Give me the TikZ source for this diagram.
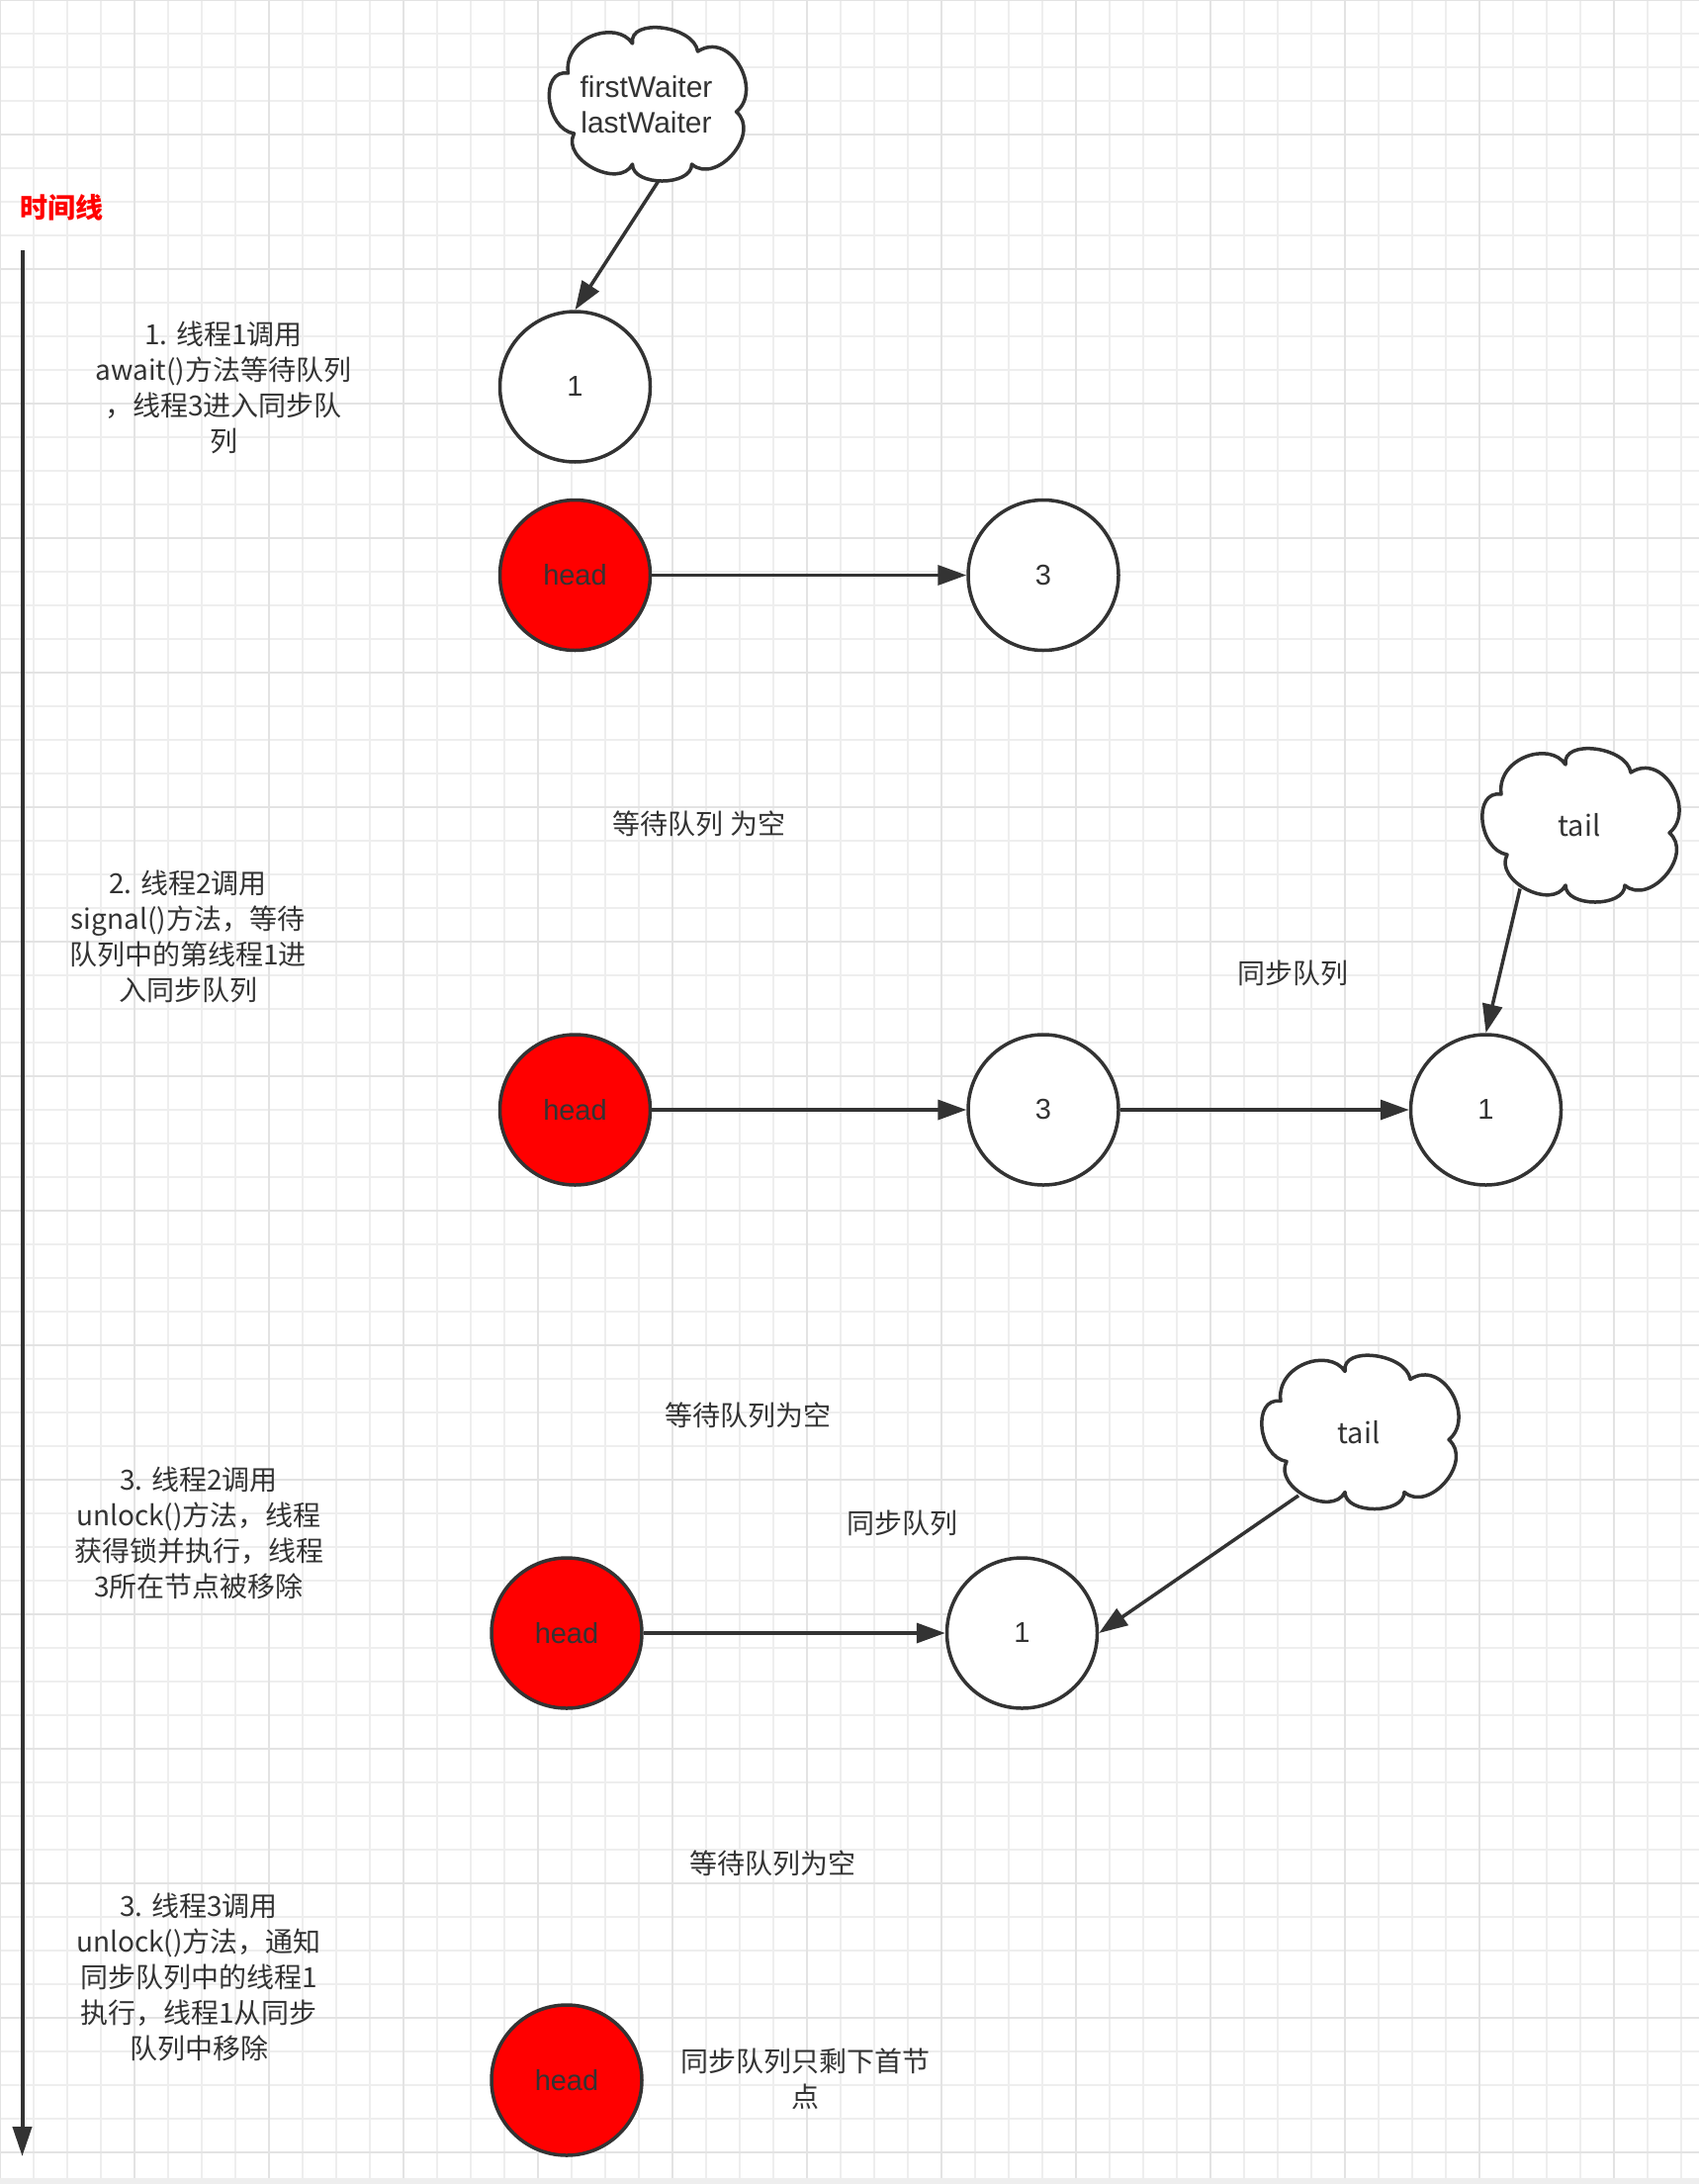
\documentclass[tikz,border=0pt]{standalone}
\usepackage{fontspec}
\setmainfont{Liberation Sans}
\newfontfamily\cjk{Noto Sans CJK SC}
\usetikzlibrary{positioning,arrows.meta}
\definecolor{ink}{HTML}{333333}
\definecolor{gridm}{HTML}{EEEEEE}
\definecolor{gridM}{HTML}{E3E3E3}
\tikzset{
  nd/.style={circle,draw=ink,line width=3.5pt,fill=white,minimum size=152pt,inner sep=0pt,text=ink,font=\fontsize{29}{34}\selectfont},
  hd/.style={nd,fill=red},
  arr/.style={-{Triangle[length=29pt,width=20pt]},line width=3.5pt,draw=ink},
  lbl/.style={font=\cjk\fontsize{28}{36}\selectfont,text=ink,align=center,inner sep=0pt},
  ttl/.style={font=\cjk\bfseries\fontsize{28}{34}\selectfont,text=red,inner sep=0pt},
  cloudline/.style={draw=ink,line width=3.5pt,fill=white,line join=round},
  cloudtxt/.style={align=center,text=ink,inner sep=0pt,minimum width=198pt,minimum height=155pt},
}
% cloud outline + text node: name, position, font, text
\newcommand\puffcloud[4]{%
  \draw[cloudline,shift={#2}] (-79,-31.5) .. controls (-84,-68) and (-30,-86) .. (-14,-61.5)
    .. controls (-18,-88) and (48,-80) .. (52,-53.5)
    .. controls (85.7,-75.1) and (118,-14.1) .. (91,7.5)
    .. controls (116.3,29.1) and (71.3,82.1) .. (46,60.5)
    .. controls (46,83.2) and (-14,83.2) .. (-14,60.5)
    .. controls (-27.6,86.5) and (-86.6,55.5) .. (-73,29.5)
    .. controls (-102.3,24.8) and (-108.3,-36.2) .. (-79,-31.5) -- cycle;
  \node[cloudtxt,font=#3] (#1) at #2 {#4};}

\begin{document}
\begin{tikzpicture}[x=1pt,y=-1pt]
\useasboundingbox (0,0) rectangle (1718,2208);
\fill[white] (0,0) rectangle (1718,2208);
\draw[gridm,line width=1.5pt,step=34pt] (0,0) grid (1718,2202);
\draw[gridM,line width=2.5pt,step=136pt] (0,0) grid (1718,2202);
\fill[gridm] (0,2202) rectangle (1718,2208);

% time line
\node[ttl] (tt) at (62,210) {时间线};
\coordinate (ts) at (22.5,253);
\coordinate (te) at (22.5,2180);
\draw[arr,line width=4pt,-{Triangle[length=30pt,width=19pt]}] (ts) -- (te);

% step 1
\node[lbl] (st1) at (226,392) {1. 线程1调用\\await()方法等待队列\\，线程3进入同步队\\列};
\puffcloud{fw}{(653.5,105.5)}{\fontsize{30}{36}\selectfont}{firstWaiter\\lastWaiter}
\node[hd] (h1) at (581.5,581.5) {head};
\node[nd,above=35pt of h1] (w1) {1};
\node[nd,right=318pt of h1] (s3a) {3};
\draw[arr] ([shift={(12,78)}]fw.center) -- (w1.north);
\draw[arr] (h1) -- (s3a);

% step 2
\node[lbl] (st2) at (190,947) {2. 线程2调用\\signal()方法，等待\\队列中的第线程1进\\入同步队列};
\node[lbl] (e2) at (707,833) {等待队列 为空};
\puffcloud{tl1}{(1597,834.5)}{\cjk\fontsize{29}{34}\selectfont}{tail}
\node[lbl] (q2) at (1307,984) {同步队列};
\node[hd] (h2) at (581.5,1122) {head};
\node[nd,right=318pt of h2] (s3b) {3};
\node[nd,right=292pt of s3b] (w2) {1};
\draw[arr] (h2) -- (s3b);
\draw[arr] (s3b) -- (w2);
\draw[arr] ([shift={(-60,64)}]tl1.center) -- (w2.north);

% step 3
\node[lbl] (st3) at (201,1550) {3. 线程2调用\\unlock()方法，线程\\获得锁并执行，线程\\3所在节点被移除};
\node[lbl] (e3) at (756,1431) {等待队列为空};
\puffcloud{tl2}{(1374,1448)}{\cjk\fontsize{29}{34}\selectfont}{tail}
\node[lbl] (q3) at (912,1540) {同步队列};
\node[hd] (h3) at (573,1651) {head};
\node[nd,right=305pt of h3] (w3) {1};
\draw[arr] (h3) -- (w3);
\draw[arr] ([shift={(-61,64)}]tl2.center) -- (w3.east);

% step 4
\node[lbl] (st4) at (201,1999) {3. 线程3调用\\unlock()方法，通知\\同步队列中的线程1\\执行，线程1从同步\\队列中移除};
\node[lbl] (e4) at (781,1884) {等待队列为空};
\node[hd] (h4) at (573,2103) {head};
\node[lbl] (q4) at (814,2102) {同步队列只剩下首节\\点};
\end{tikzpicture}
\end{document}
